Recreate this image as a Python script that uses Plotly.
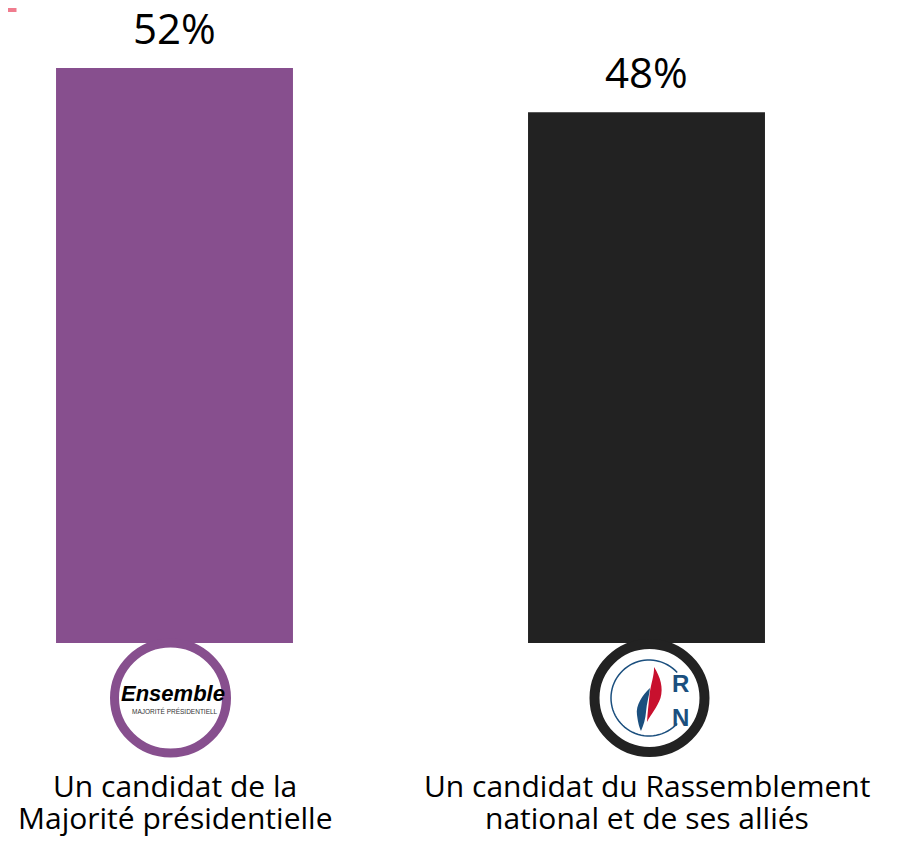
import math
import plotly.graph_objects as go

categories = ["Un candidat de la<br>Majorité présidentielle",
              "Un candidat du Rassemblement<br>national et de ses alliés"]
values = [52, 48]
value_labels = ["52%", "48%"]
bar_colors = ["#874F8E", "#222222"]

# the page adds an 8px body margin; figure pixel coordinates are page - 8
W, H = 889, 836
base_px = 635          # pixel row of the bar baseline inside the figure
px_per_unit = 575 / 52
y_top = base_px / px_per_unit
y_bot = -(H - base_px) / px_per_unit
x_unit = 472           # pixels between category centres
x0_px = 166.5
x_left = -x0_px / x_unit
x_right = (W - x0_px) / x_unit

FONT = "Open Sans, Noto Sans, sans-serif"
LOGO_FONT = "Liberation Sans, Arial, sans-serif"

fig = go.Figure()
fig.add_trace(go.Bar(
    x=[0, 1], y=values, width=0.502,
    marker=dict(color=bar_colors, line=dict(width=0)),
    hoverinfo="skip",
))

# value labels above bars
for i, (v, t) in enumerate(zip(values, value_labels)):
    fig.add_annotation(x=i, y=v, xref="x", yref="y", text=t, showarrow=False,
                       yanchor="bottom", yshift=10,
                       font=dict(size=42, color="#000000", family=FONT))

# category labels (line by line for tighter spacing)
for i, c in enumerate(categories):
    for j, line in enumerate(c.split("<br>")):
        fig.add_annotation(x=i, y=0, xref="x", yref="y", text=line, showarrow=False,
                           yanchor="middle", yshift=-142 - 32.5 * j,
                           font=dict(size=30, color="#000000", family=FONT))


def px_shape(i, **kw):
    d = dict(xref="x", yref="y", xsizemode="pixel", ysizemode="pixel",
             xanchor=i, yanchor=0, layer="above")
    d.update(kw)
    fig.add_shape(**d)


# logo rings (centre ~55 px below baseline)
cy = -55
px_shape(0, type="circle", x0=-4 - 56, x1=-4 + 56, y0=cy - 55, y1=cy + 55,
         fillcolor="#FFFFFF", line=dict(color="#874F8E", width=9))
px_shape(1, type="circle", x0=3 - 55, x1=3 + 55, y0=cy - 54, y1=cy + 54,
         fillcolor="#FFFFFF", line=dict(color="#222222", width=10))

# Ensemble logo text
fig.add_annotation(x=0, y=0, xref="x", yref="y", text="<b><i>Ensemble</i></b>",
                   showarrow=False, yshift=-50, xshift=-2,
                   font=dict(size=22, color="#000000", family=LOGO_FONT))
fig.add_annotation(x=0, y=0, xref="x", yref="y", text="MAJORITÉ PRÉSIDENTIELL",
                   showarrow=False, yshift=-68, xshift=0,
                   font=dict(size=6.5, color="#333333", family=LOGO_FONT))

# RN logo: thin blue arc, flames, letters
blue = "#1B4F7E"
red = "#C8102E"
r = 38
ccx, ccy = 2.5, -55
pts = []
for k in range(0, 61):
    a = math.radians(42 + k * (276 / 60))
    pts.append((ccx + r * math.cos(a), ccy + r * math.sin(a)))
path = "M " + " L ".join(f"{x:.1f},{y:.1f}" for x, y in pts)
px_shape(1, type="path", path=path, line=dict(color=blue, width=1.5))

red_flame = ("M 7.5,-24 C 14,-34 17,-45 14,-55 C 11,-64 4,-72 0.5,-79 "
             "C 1,-70 2,-62 3,-52 C 4,-42 8,-32 7.5,-24 Z")
blue_flame = ("M 3.5,-45 C -4,-52 -11,-62 -9.5,-72 C -8.5,-80 -7,-85 -5.5,-88 "
              "C -3,-82 -1,-76 -0.5,-69 C 0,-60 3,-52 3.5,-45 Z")
px_shape(1, type="path", path=red_flame, fillcolor=red, line=dict(width=0))
px_shape(1, type="path", path=blue_flame, fillcolor=blue, line=dict(width=0))

fig.add_annotation(x=1, y=0, xref="x", yref="y", text="<b>R</b>", showarrow=False,
                   xshift=34, yshift=-40,
                   font=dict(size=24, color=blue, family=LOGO_FONT))
fig.add_annotation(x=1, y=0, xref="x", yref="y", text="<b>N</b>", showarrow=False,
                   xshift=34, yshift=-74,
                   font=dict(size=24, color=blue, family=LOGO_FONT))

# pink corner mark at top-left
fig.add_shape(type="path", xref="paper", yref="paper",
              path=f"M 0,{1 - 2 / H:.5f} L {6.5 / W:.5f},{1 - 2 / H:.5f} L {6.5 / W:.5f},1",
              line=dict(color="#F07C8E", width=4), layer="above")

fig.update_layout(
    width=W, height=H,
    margin=dict(l=0, r=0, t=0, b=0),
    paper_bgcolor="#FFFFFF", plot_bgcolor="#FFFFFF",
    showlegend=False,
    xaxis=dict(range=[x_left, x_right], visible=False, fixedrange=True),
    yaxis=dict(range=[y_bot, y_top], visible=False, fixedrange=True),
    font=dict(family=FONT),
)

fig.write_html("out.html")
